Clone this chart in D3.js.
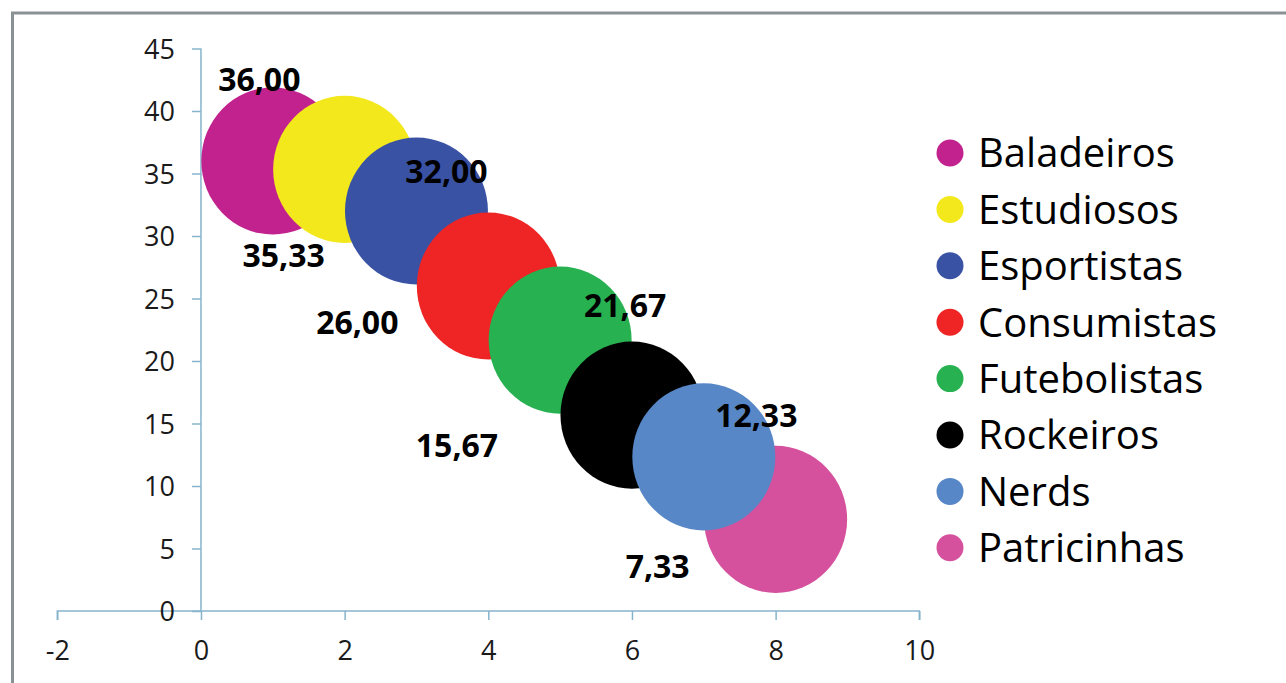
<!DOCTYPE html>
<html>
<head>
<meta charset="utf-8">
<script src="https://cdn.jsdelivr.net/npm/d3@7"></script>
<style>
  html, body { margin: 0; padding: 0; background: #fff; }
  svg { display: block; }
</style>
</head>
<body>
<svg id="chart" width="1286" height="683"></svg>
<script>
// ---- data ----
const categories = ["Baladeiros","Estudiosos","Esportistas","Consumistas","Futebolistas","Rockeiros","Nerds","Patricinhas"];
const xValues = [1, 2, 3, 4, 5, 6, 7, 8];
const yValues = [36.00, 35.33, 32.00, 26.00, 21.67, 15.67, 12.33, 7.33];
const bubbleSizes = [1, 1, 1, 1, 1, 1, 1, 1];
const xTicks = [-2, 0, 2, 4, 6, 8, 10];
const yTicks = [0, 5, 10, 15, 20, 25, 30, 35, 40, 45];

// ---- styles / layout ----
const colors = ["#c2228e","#f3e81c","#3a52a4","#ee2524","#27b151","#000000","#5787c6","#d5519e"];
const drawOrder = [7, 0, 1, 2, 3, 4, 5, 6];
const labelOffsets = [[-13.5,-82],[-61,86.6],[30,-39.5],[-131,36],[65,-35],[-175,30],[52.5,-41],[-118,47]];
const axisColor = "#86b4cc";
const font = "'Open Sans', Lato, sans-serif";

const svg = d3.select("#chart");
const x = d3.scaleLinear().domain([-2, 10]).range([57.3, 919.3]);
const y = d3.scaleLinear().domain([0, 45]).range([611, 48.5]);
const r = d3.scaleSqrt().domain([0, d3.max(bubbleSizes)]).range([0, 72.5]);

// frame
svg.append("rect").attr("x", 0).attr("y", 0).attr("width", 1286).attr("height", 683).attr("fill", "#fff");
svg.append("path")
  .attr("d", "M12.5,683 L12.5,13 L1286,13")
  .attr("fill", "none").attr("stroke", "#8a9194").attr("stroke-width", 3);

// axes
const plain = d => String(d);
const xAxis = d3.axisBottom(x).tickValues(xTicks).tickSize(9).tickSizeOuter(9).tickPadding(21).tickFormat(plain);
const yAxis = d3.axisLeft(y).tickValues(yTicks).tickSize(9).tickSizeOuter(0).tickPadding(17).tickFormat(plain);

const gx = svg.append("g").attr("transform", `translate(0,${y(0)})`).call(xAxis);
const gy = svg.append("g").attr("transform", `translate(${x(0)},0)`).call(yAxis);
[gx, gy].forEach(g => {
  g.select(".domain").attr("stroke", axisColor).attr("stroke-width", 1.5);
  g.selectAll(".tick line").attr("stroke", axisColor).attr("stroke-width", 1.5);
  g.selectAll(".tick text").attr("fill", "#1a1a1a").style("font-family", font).style("font-size", "27px");
});
gy.select(".domain").attr("d", `M0,${y(0)}V${y(45)}`);
gx.select(".domain").attr("d", `M${x(-2)},9V0H${x(10)}V9`);
gy.selectAll(".tick text").attr("dy", "0.36em");

// bubbles
const data = categories.map((c, i) => ({ c, i, x: xValues[i], y: yValues[i], s: bubbleSizes[i] }));
const fmt = d3.formatLocale({ decimal: ",", thousands: ".", grouping: [3], currency: ["R$", ""] }).format(".2f");

svg.append("g").selectAll("ellipse")
  .data(drawOrder.map(i => data[i]))
  .join("ellipse")
  .attr("cx", d => x(d.x))
  .attr("cy", d => y(d.y))
  .attr("rx", d => r(d.s) * 0.986)
  .attr("ry", d => r(d.s) * 1.014)
  .attr("fill", d => colors[d.i]);

// labels
svg.append("g").selectAll("text")
  .data(data)
  .join("text")
  .attr("x", d => x(d.x) + labelOffsets[d.i][0])
  .attr("y", d => y(d.y) + labelOffsets[d.i][1])
  .attr("dy", "0.36em")
  .attr("text-anchor", "middle")
  .style("font-family", font)
  .style("font-weight", "bold")
  .style("font-size", "32px")
  .attr("fill", "#000")
  .text(d => fmt(d.y));

// legend
const legend = svg.append("g").attr("transform", "translate(950,153)");
const rows = legend.selectAll("g").data(data).join("g")
  .attr("transform", (d, i) => `translate(0,${i * 56.4})`);
rows.append("circle").attr("r", 13.5).attr("fill", d => colors[d.i]);
rows.append("text")
  .attr("x", 28).attr("y", 0).attr("dy", "0.36em")
  .style("font-family", font).style("font-size", "40px")
  .attr("fill", "#000")
  .text(d => d.c);
</script>
</body>
</html>
